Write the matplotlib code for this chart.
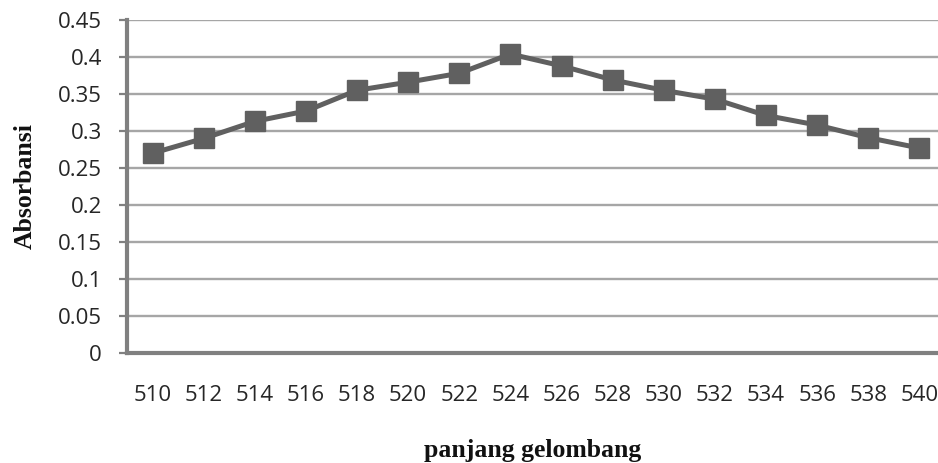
import matplotlib
matplotlib.use("Agg")
import matplotlib.pyplot as plt
import numpy as np

# Absorbance spectrum scan
wavelengths = ["510", "512", "514", "516", "518", "520", "522", "524",
               "526", "528", "530", "532", "534", "536", "538", "540"]
absorbance = [0.270, 0.290, 0.313, 0.327, 0.355, 0.366, 0.378, 0.404,
              0.388, 0.369, 0.355, 0.343, 0.321, 0.308, 0.291, 0.277]
y_ticks = [0, 0.05, 0.1, 0.15, 0.2, 0.25, 0.3, 0.35, 0.4, 0.45]
y_tick_labels = ["0", "0.05", "0.1", "0.15", "0.2", "0.25", "0.3", "0.35", "0.4", "0.45"]

fig = plt.figure(figsize=(9.38, 4.63), dpi=100)
ax = fig.add_axes([0.1354, 0.2376, 0.872, 0.7192])

x = np.arange(len(wavelengths))
ax.plot(x, absorbance, color="#606060", linewidth=3.6, marker="s",
        markersize=14, markerfacecolor="#606060", markeredgecolor="#606060",
        zorder=3, clip_on=False)

ax.set_xlim(-0.5, len(wavelengths) - 0.5)
ax.set_ylim(0, 0.45)
ax.set_yticks(y_ticks)
ax.set_yticklabels(y_tick_labels)
ax.set_xticks(x)
ax.set_xticklabels(wavelengths)

ax.grid(axis="y", color="#a6a6a6", linewidth=1.7)
ax.set_axisbelow(True)

for side in ("top", "right"):
    ax.spines[side].set_visible(False)
for side in ("left", "bottom"):
    ax.spines[side].set_color("#808080")
    ax.spines[side].set_linewidth(3.0)

ax.tick_params(axis="y", direction="out", length=6, width=1.6, color="#808080",
               labelsize=16, labelcolor="#262626", pad=12)
ax.tick_params(axis="x", length=0, labelsize=16, labelcolor="#262626", pad=23)
for lab in ax.get_xticklabels() + ax.get_yticklabels():
    lab.set_family("Open Sans")

fig.text(0.0265, 0.5975, "Absorbansi", family="Liberation Serif", fontweight="bold",
         fontsize=18.5, color="#111111", rotation=90, ha="center", va="center")
fig.text(0.568, 0.028, "panjang gelombang", family="Liberation Serif",
         fontweight="bold", fontsize=18.5, color="#111111", ha="center", va="center")

fig.savefig("out.png", dpi=100, facecolor="white")
